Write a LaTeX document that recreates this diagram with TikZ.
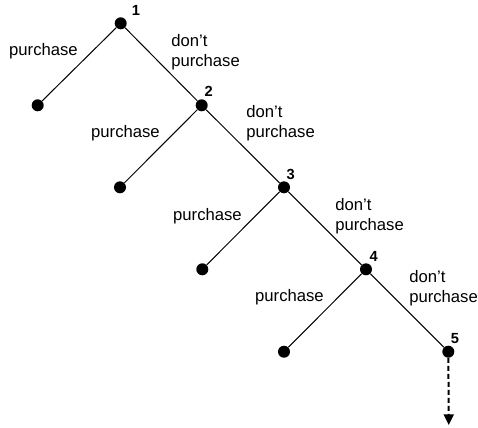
\documentclass[tikz,border=0pt]{standalone}
\usepackage{fontspec}
\setmainfont{Liberation Sans}
\usetikzlibrary{arrows.meta}
\begin{document}
\begin{tikzpicture}[x=0.75pt,y=-0.75pt,
  dot/.style={circle,fill=black,inner sep=0pt,minimum size=9pt},
  edge/.style={draw=black,line width=0.75pt},
  lbl/.style={font=\fontsize{12.5pt}{15pt}\selectfont,inner sep=0pt,align=left},
  num/.style={font=\fontsize{11pt}{13pt}\selectfont\bfseries,inner sep=0pt},
  cont/.style={draw=black,line width=1.5pt,dash pattern=on 3.75pt off 2.25pt,
    -{Triangle[length=8pt,width=7.5pt]}}]
\useasboundingbox (0,0) rectangle (478,428);
% decision nodes
\node[dot] (n1) at (120.7,23.3) {};
\node[dot] (n2) at (201.7,105.3) {};
\node[dot] (n3) at (284,187.3) {};
\node[dot] (n4) at (366,269.3) {};
\node[dot] (n5) at (448.3,351.7) {};
% leaves
\node[dot] (l1) at (37.7,105.3) {};
\node[dot] (l2) at (120,187.3) {};
\node[dot] (l3) at (202.3,269.3) {};
\node[dot] (l4) at (284,351.7) {};
\coordinate (end) at (448.8,425);
% edges
\draw[edge] (n1) -- (l1);
\draw[edge] (n1) -- (n2);
\draw[edge] (n2) -- (l2);
\draw[edge] (n2) -- (n3);
\draw[edge] (n3) -- (l3);
\draw[edge] (n3) -- (n4);
\draw[edge] (n4) -- (l4);
\draw[edge] (n4) -- (n5);
\draw[cont] (n5) -- (end);
% numbers
\node[num] (t1) at (136,10) {1};
\node[num] (t2) at (208.7,91.7) {2};
\node[num] (t3) at (290.7,174) {3};
\node[num] (t4) at (373.7,256.7) {4};
\node[num] (t5) at (455,338.3) {5};
% purchase labels
\node[lbl,anchor=east] (p1) at (78,51) {purchase};
\node[lbl,anchor=east] (p2) at (160,133.5) {purchase};
\node[lbl,anchor=east] (p3) at (242,215.7) {purchase};
\node[lbl,anchor=east] (p4) at (324,297) {purchase};
% don't purchase labels
\node[lbl,anchor=west] (d1) at (171,52) {don’t\\purchase};
\node[lbl,anchor=west] (d2) at (246,123.5) {don’t\\purchase};
\node[lbl,anchor=west] (d3) at (335,216) {don’t\\purchase};
\node[lbl,anchor=west] (d4) at (409,288) {don’t\\purchase};
\end{tikzpicture}
\end{document}
